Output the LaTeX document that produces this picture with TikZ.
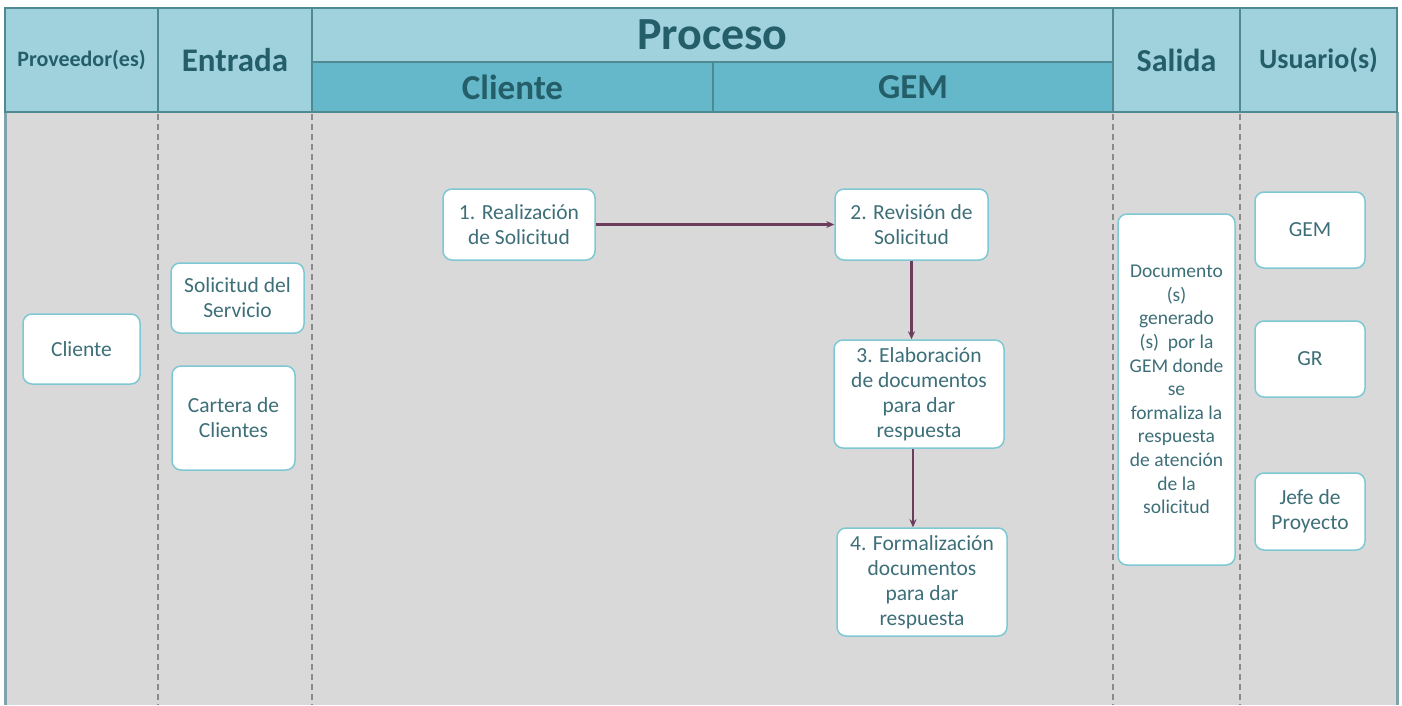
\documentclass[tikz,border=0pt]{standalone}
\usepackage{fontspec}
\setmainfont{Carlito}
\usetikzlibrary{arrows.meta}
\definecolor{hdrlight}{HTML}{A0D2DE}
\definecolor{hdrdark}{HTML}{65B8CA}
\definecolor{hdrline}{HTML}{4F8A93}
\definecolor{hdrtext}{HTML}{245E68}
\definecolor{bodybg}{HTML}{D9D9D9}
\definecolor{boxline}{HTML}{7EC8D4}
\definecolor{boxtext}{HTML}{3D6F78}
\definecolor{arrowc}{HTML}{6B3C5C}
\definecolor{dashc}{HTML}{8A8A8A}
\definecolor{framec}{HTML}{7FA3AB}
\tikzset{
  hdr/.style={draw=hdrline, line width=1.5pt, fill=hdrlight, text=hdrtext, inner sep=0pt, font=\bfseries},
  hdrsub/.style={hdr, fill=hdrdark},
  box/.style={draw=boxline, fill=white, line width=1.5pt, rounded corners=9pt, text=boxtext, align=center, inner sep=0pt, font=\fontsize{21.5}{25}\selectfont},
  lane/.style={draw=dashc, line width=2.5pt, dash pattern=on 6pt off 4pt},
  flow/.style={draw=arrowc, line width=2.2pt, -{Stealth[length=8pt,width=7pt]}}
}
\begin{document}
\begin{tikzpicture}[x=1pt,y=-1pt]
\useasboundingbox (0,0) rectangle (1402,705);
\fill[white] (0,0) rectangle (1402,705);
% body
\fill[bodybg] (5,112) rectangle (1397,705);
\draw[framec, line width=3pt] (5,112) -- (5,705);
\draw[framec, line width=3pt] (1397,112) -- (1397,705);
% lanes
\draw[lane] (158,114) -- (158,705);
\draw[lane] (312,114) -- (312,705);
\draw[lane] (1113,114) -- (1113,705);
\draw[lane] (1240,114) -- (1240,705);
% header
\node[hdr, minimum width=153pt, minimum height=104pt, font=\bfseries\fontsize{22}{26}\selectfont] (hprov) at (81.5,60) {Proveedor(es)};
\node[hdr, minimum width=154pt, minimum height=104pt, font=\bfseries\fontsize{33}{36}\selectfont] (hent) at (235,60) {Entrada};
\node[hdr, minimum width=801pt, minimum height=54pt, font=\bfseries\fontsize{46}{48}\selectfont] (hproc) at (712.5,35) {Proceso};
\node[hdrsub, minimum width=401pt, minimum height=50pt, font=\bfseries\fontsize{35}{38}\selectfont] (hcli) at (512.5,87) {Cliente};
\node[hdrsub, minimum width=400pt, minimum height=50pt, font=\bfseries\fontsize{35}{38}\selectfont] (hgem) at (913,87) {GEM};
\node[hdr, minimum width=127pt, minimum height=104pt, font=\bfseries\fontsize{32}{36}\selectfont] (hsal) at (1176.5,60) {Salida};
\node[hdr, minimum width=157pt, minimum height=104pt, font=\bfseries\fontsize{28}{32}\selectfont] (husu) at (1318.5,60) {Usuario(s)};
% boxes
\node[box, minimum width=117pt, minimum height=70pt] (prov) at (81.5,349) {Cliente};
\node[box, minimum width=133pt, minimum height=70pt] (sol) at (237.5,298) {Solicitud del\\Servicio};
\node[box, minimum width=123pt, minimum height=104pt] (cart) at (233.5,418) {Cartera de\\Clientes};
\node[box, minimum width=152pt, minimum height=71pt] (s1) at (519,224.5) {1. Realización\\de Solicitud};
\node[box, minimum width=153pt, minimum height=71pt] (s2) at (911.5,224.5) {2. Revisión de\\Solicitud};
\node[box, minimum width=170pt, minimum height=108pt] (s3) at (919,394) {3. Elaboración\\de documentos\\para dar\\respuesta};
\node[box, minimum width=170pt, minimum height=108pt] (s4) at (922,582) {4. Formalización\\documentos\\para dar\\respuesta};
\node[box, minimum width=117pt, minimum height=351pt, font=\fontsize{19.5}{23.6}\selectfont] (doc) at (1176.5,389.5) {Documento\\(s)\\generado\\(s)~ por la\\GEM donde\\se\\formaliza la\\respuesta\\de atención\\de la\\solicitud};
\node[box, minimum width=110pt, minimum height=76pt] (u1) at (1310,230) {GEM};
\node[box, minimum width=110pt, minimum height=76pt] (u2) at (1310,359) {GR};
\node[box, minimum width=110pt, minimum height=77pt] (u3) at (1310,511.5) {Jefe de\\Proyecto};
% arrows
\draw[flow] (s1.east) -- (s2.west);
\draw[flow] (s2.south) -- (s3.north -| s2.south);
\draw[flow] ([xshift=-6pt]s3.south) -- ([xshift=-6pt]s3.south |- s4.north);
\end{tikzpicture}
\end{document}
